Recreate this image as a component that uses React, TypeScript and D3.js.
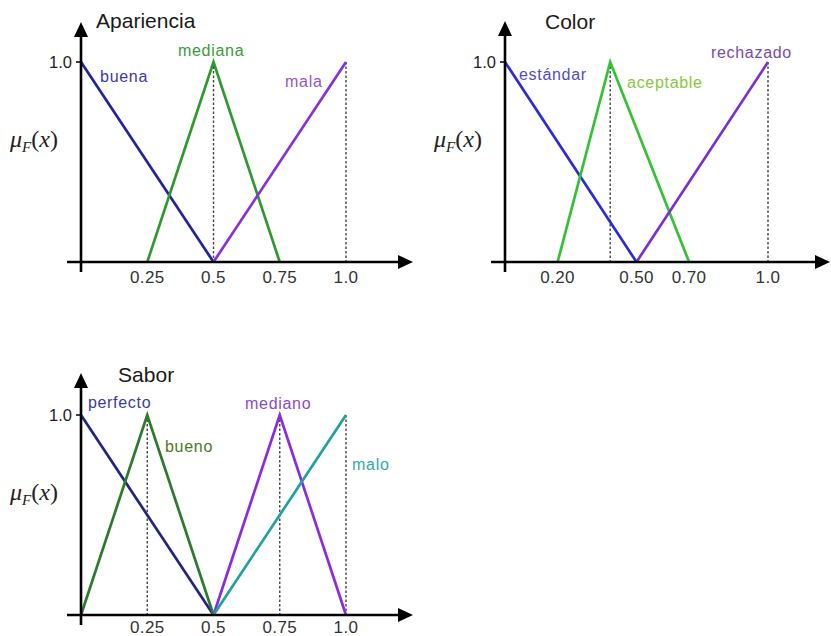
import React from "react";
import * as d3 from "d3";

// ---- Data: triangular membership functions for each quality attribute ----
const aparienciaNames = ["buena", "mediana", "mala"];
const aparienciaPoints: [number, number][][] = [
  [[0, 1], [0.5, 0]],
  [[0.25, 0], [0.5, 1], [0.75, 0]],
  [[0.5, 0], [1, 1]],
];
const aparienciaTicks = [0.25, 0.5, 0.75, 1.0];
const aparienciaTickLabels = ["0.25", "0.5", "0.75", "1.0"];
const aparienciaGuides = [0.5, 1.0];

const colorNames = ["estándar", "aceptable", "rechazado"];
const colorPoints: [number, number][][] = [
  [[0, 1], [0.5, 0]],
  [[0.2, 0], [0.4, 1], [0.7, 0]],
  [[0.5, 0], [1, 1]],
];
const colorTicks = [0.2, 0.5, 0.7, 1.0];
const colorTickLabels = ["0.20", "0.50", "0.70", "1.0"];
const colorGuides = [0.4, 1.0];

const saborNames = ["perfecto", "bueno", "mediano", "malo"];
const saborPoints: [number, number][][] = [
  [[0, 1], [0.5, 0]],
  [[0, 0], [0.25, 1], [0.5, 0]],
  [[0.5, 0], [0.75, 1], [1, 0]],
  [[0.5, 0], [1, 1]],
];
const saborTicks = [0.25, 0.5, 0.75, 1.0];
const saborTickLabels = ["0.25", "0.5", "0.75", "1.0"];
const saborGuides = [0.25, 0.75, 1.0];

// ---- Styling and layout ----
type Style = { line: string; label: string; at: [number, number] };

interface PanelSpec {
  title: string;
  titleAt: [number, number];
  names: string[];
  points: [number, number][][];
  ticks: number[];
  tickLabels: string[];
  guides: number[];
  styles: Style[];
  ox: number;
  oy: number;
  span: number;
  height: number;
  xTip: number;
  yTip: number;
  tickGap: number;
}

const SANS = "'Liberation Sans', Arial, sans-serif";
const SERIF = "'Liberation Serif', 'DejaVu Serif', serif";

const panels: PanelSpec[] = [
  {
    title: "Apariencia",
    titleAt: [0.057, 1.17],
    names: aparienciaNames,
    points: aparienciaPoints,
    ticks: aparienciaTicks,
    tickLabels: aparienciaTickLabels,
    guides: aparienciaGuides,
    styles: [
      { line: "#24249a", label: "#3a3aae", at: [0.072, 0.9] },
      { line: "#2e9a2e", label: "#3a9a3a", at: [0.366, 1.03] },
      { line: "#8531dc", label: "#9258cc", at: [0.77, 0.875] },
    ],
    ox: 81,
    oy: 262,
    span: 265,
    height: 200,
    xTip: 413,
    yTip: 22,
    tickGap: 21,
  },
  {
    title: "Color",
    titleAt: [0.152, 1.165],
    names: colorNames,
    points: colorPoints,
    ticks: colorTicks,
    tickLabels: colorTickLabels,
    guides: colorGuides,
    styles: [
      { line: "#2b2bd8", label: "#4c4cd0", at: [0.053, 0.91] },
      { line: "#33c233", label: "#86c840", at: [0.464, 0.87] },
      { line: "#7a2fd2", label: "#7a4aaa", at: [0.783, 1.02] },
    ],
    ox: 505,
    oy: 262,
    span: 263,
    height: 200,
    xTip: 830,
    yTip: 21,
    tickGap: 21,
  },
  {
    title: "Sabor",
    titleAt: [0.14, 1.165],
    names: saborNames,
    points: saborPoints,
    ticks: saborTicks,
    tickLabels: saborTickLabels,
    guides: saborGuides,
    styles: [
      { line: "#232384", label: "#3a3aa2", at: [0.026, 1.035] },
      { line: "#2d7a2d", label: "#4a7a22", at: [0.317, 0.815] },
      { line: "#8a2be2", label: "#8a4acc", at: [0.619, 1.03] },
      { line: "#21a0a0", label: "#33aaaa", at: [1.023, 0.725] },
    ],
    ox: 81,
    oy: 615,
    span: 265,
    height: 200,
    xTip: 413,
    yTip: 373,
    tickGap: 18,
  },
];

function Panel({ p }: { p: PanelSpec }) {
  const x = d3.scaleLinear().domain([0, 1]).range([p.ox, p.ox + p.span]);
  const y = d3.scaleLinear().domain([0, 1]).range([p.oy, p.oy - p.height]);
  const line = d3
    .line<[number, number]>()
    .x((d) => x(d[0]))
    .y((d) => y(d[1]));

  const axisW = 2.6;
  const head = 15;
  const half = 7;

  return (
    <g>
      {/* dashed guides from each peak down to the axis */}
      {p.guides.map((g) => (
        <line
          key={"g" + g}
          x1={x(g)}
          x2={x(g)}
          y1={y(1)}
          y2={y(0)}
          stroke="#444"
          strokeWidth={1.4}
          strokeDasharray="2.5,2"
        />
      ))}

      {/* membership functions */}
      {p.points.map((pts, i) => (
        <path
          key={p.names[i]}
          d={line(pts) || ""}
          fill="none"
          stroke={p.styles[i].line}
          strokeWidth={2.7}
          strokeLinejoin="miter"
        />
      ))}

      {/* axes with arrowheads */}
      <line x1={x(0)} x2={x(0)} y1={y(0) + 10} y2={p.yTip + head - 1} stroke="#000" strokeWidth={axisW} />
      <path
        d={`M${x(0)},${p.yTip} L${x(0) - half},${p.yTip + head} L${x(0) + half},${p.yTip + head} Z`}
        fill="#000"
      />
      <line x1={x(0) - 14} x2={p.xTip - head + 1} y1={y(0)} y2={y(0)} stroke="#000" strokeWidth={axisW} />
      <path
        d={`M${p.xTip},${y(0)} L${p.xTip - head},${y(0) - half} L${p.xTip - head},${y(0) + half} Z`}
        fill="#000"
      />

      {/* y tick at 1.0 */}
      <line x1={x(0) - 5} x2={x(0)} y1={y(1)} y2={y(1)} stroke="#000" strokeWidth={1.5} />
      <text
        x={x(0) - 9}
        y={y(1) + 6}
        textAnchor="end"
        fontFamily={SANS}
        fontSize={16.5}
        fill="#222"
      >
        1.0
      </text>

      {/* x tick labels */}
      {p.ticks.map((t, i) => (
        <text
          key={"t" + t}
          x={x(t)}
          y={y(0) + p.tickGap}
          textAnchor="middle"
          fontFamily={SANS}
          fontSize={17}
          letterSpacing={0.4}
          fill="#333"
        >
          {p.tickLabels[i]}
        </text>
      ))}

      {/* y-axis label */}
      <text x={x(0) - 71} y={y(0) - 115} fontFamily={SERIF} fontSize={24} fill="#222">
        <tspan fontStyle="italic">μ</tspan>
        <tspan fontStyle="italic" fontSize={15} dy={5}>F</tspan>
        <tspan dy={-5}>(</tspan>
        <tspan fontStyle="italic">x</tspan>
        <tspan>)</tspan>
      </text>

      {/* title */}
      <text
        x={x(p.titleAt[0])}
        y={y(p.titleAt[1])}
        fontFamily={SANS}
        fontSize={21}
        fill="#1a1a1a"
      >
        {p.title}
      </text>

      {/* series labels */}
      {p.names.map((n, i) => (
        <text
          key={"l" + n}
          x={x(p.styles[i].at[0])}
          y={y(p.styles[i].at[1])}
          fontFamily={SANS}
          fontSize={16}
          letterSpacing={0.7}
          fill={p.styles[i].label}
        >
          {n}
        </text>
      ))}
    </g>
  );
}

export default function App() {
  return (
    <svg
      width={831}
      height={636}
      style={{ position: "fixed", left: 0, top: 0, background: "#fff", display: "block" }}
    >
      <rect width={831} height={636} fill="#fff" />
      {panels.map((p) => (
        <Panel key={p.title} p={p} />
      ))}
    </svg>
  );
}
